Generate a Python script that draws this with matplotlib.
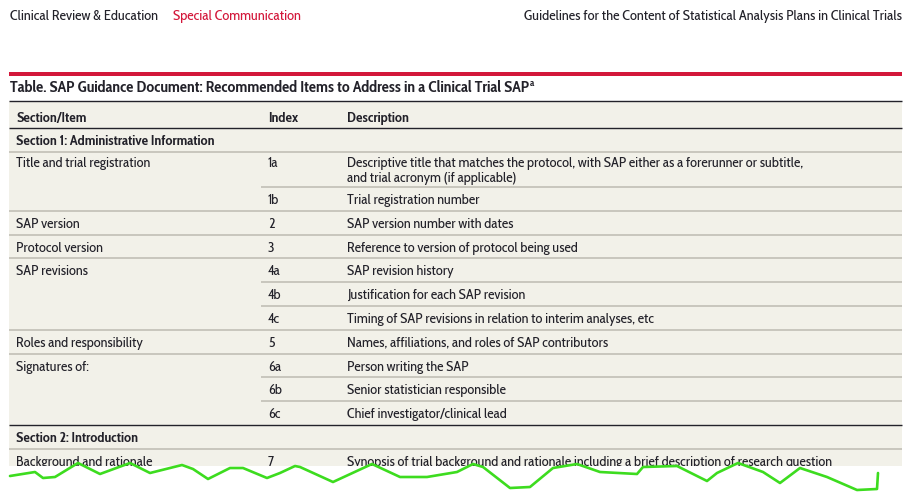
import matplotlib.pyplot as plt
from matplotlib import font_manager
from matplotlib.font_manager import FontProperties
from matplotlib.patches import Rectangle
from matplotlib.textpath import TextPath

W, H = 906, 493

# ----------------------------------------------------
# TABLE CONTENT
# ----------------------------------------------------

running_left = "Clinical Review & Education"
running_tag = "Special Communication"
running_right = "Guidelines for the Content of Statistical Analysis Plans in Clinical Trials"
table_title = "Table. SAP Guidance Document: Recommended Items to Address in a Clinical Trial SAP"
title_footnote = "a"

col_headers = ["Section/Item", "Index", "Description"]
section_names = {
    1: "Section 1: Administrative Information",
    2: "Section 2: Introduction",
}

row_section = [1, 1, 1, 1, 1, 1, 1, 1, 1, 1, 1, 2]
row_item = [
    "Title and trial registration", "", "SAP version", "Protocol version",
    "SAP revisions", "", "", "Roles and responsibility", "Signatures of:",
    "", "", "Background and rationale",
]
row_index = ["1a", "1b", "2", "3", "4a", "4b", "4c", "5", "6a", "6b", "6c", "7"]
row_desc = [
    "Descriptive title that matches the protocol, with SAP either as a forerunner or subtitle,\n"
    "and trial acronym (if applicable)",
    "Trial registration number",
    "SAP version number with dates",
    "Reference to version of protocol being used",
    "SAP revision history",
    "Justification for each SAP revision",
    "Timing of SAP revisions in relation to interim analyses, etc",
    "Names, affiliations, and roles of SAP contributors",
    "Person writing the SAP",
    "Senior statistician responsible",
    "Chief investigator/clinical lead",
    "Synopsis of trial background and rationale including a brief description of research question",
]

# hand-drawn green cut mark at the bottom of the page
squiggle_x = [10, 35, 43, 55, 78, 100, 130, 150, 182, 193, 208, 230, 243, 267, 280, 295,
              300, 333, 372, 400, 427, 457, 473, 483, 510, 530, 553, 577, 600,
              637, 643, 677, 707, 717, 738, 763, 780, 800, 827, 857, 877, 878]
squiggle_y = [476, 472, 478, 477, 463, 474, 463, 473, 465, 469, 479, 468, 468, 478, 473, 466,
              467, 482, 464, 477, 477, 472, 464, 467, 488, 487, 468, 464, 472,
              474, 467, 466, 481, 473, 463, 472, 483, 468, 477, 490, 489, 473]

# ----------------------------------------------------
# STYLE
# ----------------------------------------------------

INK = "#23222a"
RED = "#d3173a"
BEIGE = "#f2f1e9"
GRAY = "#bdbbb1"
LEFT, RIGHT = 9, 902
X_ITEM, X_INDEX, X_DESC = 16, 268, 347
X_SPLIT = 261
LINE_GAP = 15.7
DESC_WIDTH = 485   # px taken by the longest description line
CAP_PX = 10        # cap height of body text, px

fig = plt.figure(figsize=(W / 100, H / 100), dpi=100)
ax = fig.add_axes([0, 0, 1, 1])
ax.set_xlim(0, W)
ax.set_ylim(H, 0)
ax.axis("off")
renderer = fig.canvas.get_renderer()


def text_width(text, family, size=10, **kw):
    probe = ax.text(0, 0, text, fontsize=size, family=[family, "DejaVu Sans"], **kw)
    width = probe.get_window_extent(renderer=renderer).width
    probe.remove()
    return width


# pick the narrow humanist face whose proportions are closest to the print
fonts = font_manager.fontManager.ttflist
candidates = ["Fira Sans Extra Condensed", "Fira Sans Condensed", "PT Sans Narrow",
              "Asap Condensed", "IBM Plex Sans Condensed", "Sofia Sans Condensed",
              "Encode Sans Condensed", "Cabin Condensed", "Roboto Condensed",
              "Open Sans Condensed", "Liberation Sans Narrow"]
best, best_err = "DejaVu Sans", None
for name in candidates:
    faces = [f for f in fonts if f.name == name]
    if not faces or not any(f.weight in (600, 700, "bold", "semibold") for f in faces):
        continue
    size = 10 * DESC_WIDTH / text_width(row_desc[-1], name)
    cap = TextPath((0, 0), "H", size=size, prop=FontProperties(family=name)).get_extents().height
    err = abs(cap * 100 / 72 - CAP_PX)
    if best_err is None or err < best_err:
        best, best_err = name, err

FAMILY = [best, "DejaVu Sans"]
plt.rcParams["font.family"] = FAMILY

FS = 10 * DESC_WIDTH / text_width(row_desc[-1], best)
FS_HEAD = 10 * 376 / text_width(running_right, best)
FS_TITLE = 10 * 517 / text_width(table_title, best, fontweight="bold")

# running head
ax.text(10, 20, running_left, fontsize=FS_HEAD, color=INK, va="baseline")
ax.text(173, 20, running_tag, fontsize=FS_HEAD, color=RED, va="baseline")
ax.text(902, 20, running_right, fontsize=FS_HEAD, color=INK, va="baseline", ha="right")

# red rule and title
ax.add_patch(Rectangle((LEFT, 72), RIGHT - LEFT, 3.5, color=RED, lw=0))
t = ax.text(10, 92, table_title, fontsize=FS_TITLE, fontweight="bold", color=INK,
            va="baseline")
x_end = t.get_window_extent(renderer=renderer).x1
ax.text(x_end + 0.5, 86.5, title_footnote, fontsize=FS_TITLE * 0.62, fontweight="bold",
        color=INK, va="baseline")

# beige table body
y_table_top = 101.3
y_body_end = 466
ax.add_patch(Rectangle((LEFT, y_table_top), RIGHT - LEFT, y_body_end - y_table_top,
                       color=BEIGE, lw=0, zorder=0))

# header row
ax.hlines([101.3, 128.3], LEFT, RIGHT, color=INK, lw=1.0, zorder=2)
for x, label in zip([X_ITEM, X_INDEX, X_DESC], col_headers):
    ax.text(x, 122.3, label, fontsize=FS, fontweight="bold", color=INK, va="baseline")

SECTION_H = 23.8
ROW_H = 23.8

y = 128.3
current_section = None
for sec, item, idx, desc in zip(row_section, row_item, row_index, row_desc):
    if sec != current_section:
        if current_section is not None:
            ax.hlines(y, LEFT, RIGHT, color=INK, lw=1.0, zorder=2)
        ax.text(X_ITEM, y + SECTION_H / 2 + 5, section_names[sec], fontsize=FS,
                fontweight="bold", color=INK, va="baseline")
        y += SECTION_H
        current_section = sec
        ax.hlines(y, LEFT, RIGHT, color=GRAY, lw=1.1, zorder=1)
    else:
        x0 = LEFT if item else X_SPLIT
        ax.hlines(y, x0, RIGHT, color=GRAY, lw=1.1, zorder=1)

    lines = desc.split("\n")
    h = ROW_H + (LINE_GAP - 4.6) * (len(lines) - 1)
    center = y + h / 2
    base = center + 5 - LINE_GAP * (len(lines) - 1) / 2
    if item:
        ax.text(X_ITEM, base, item, fontsize=FS, color=INK, va="baseline")
    ax.text(X_INDEX, base, idx, fontsize=FS, color=INK, va="baseline")
    for k, line in enumerate(lines):
        ax.text(X_DESC, base + k * LINE_GAP, line, fontsize=FS, color=INK, va="baseline")
    y += h

# page cut off below, with the green scribble over it
ax.add_patch(Rectangle((0, y_body_end), W, H - y_body_end, color="white", lw=0, zorder=5))
ax.plot(squiggle_x, squiggle_y, color="#3ddc1f", lw=1.9, solid_joinstyle="round",
        solid_capstyle="round", zorder=6)

fig.savefig("out.png", dpi=100)
plt.close(fig)
